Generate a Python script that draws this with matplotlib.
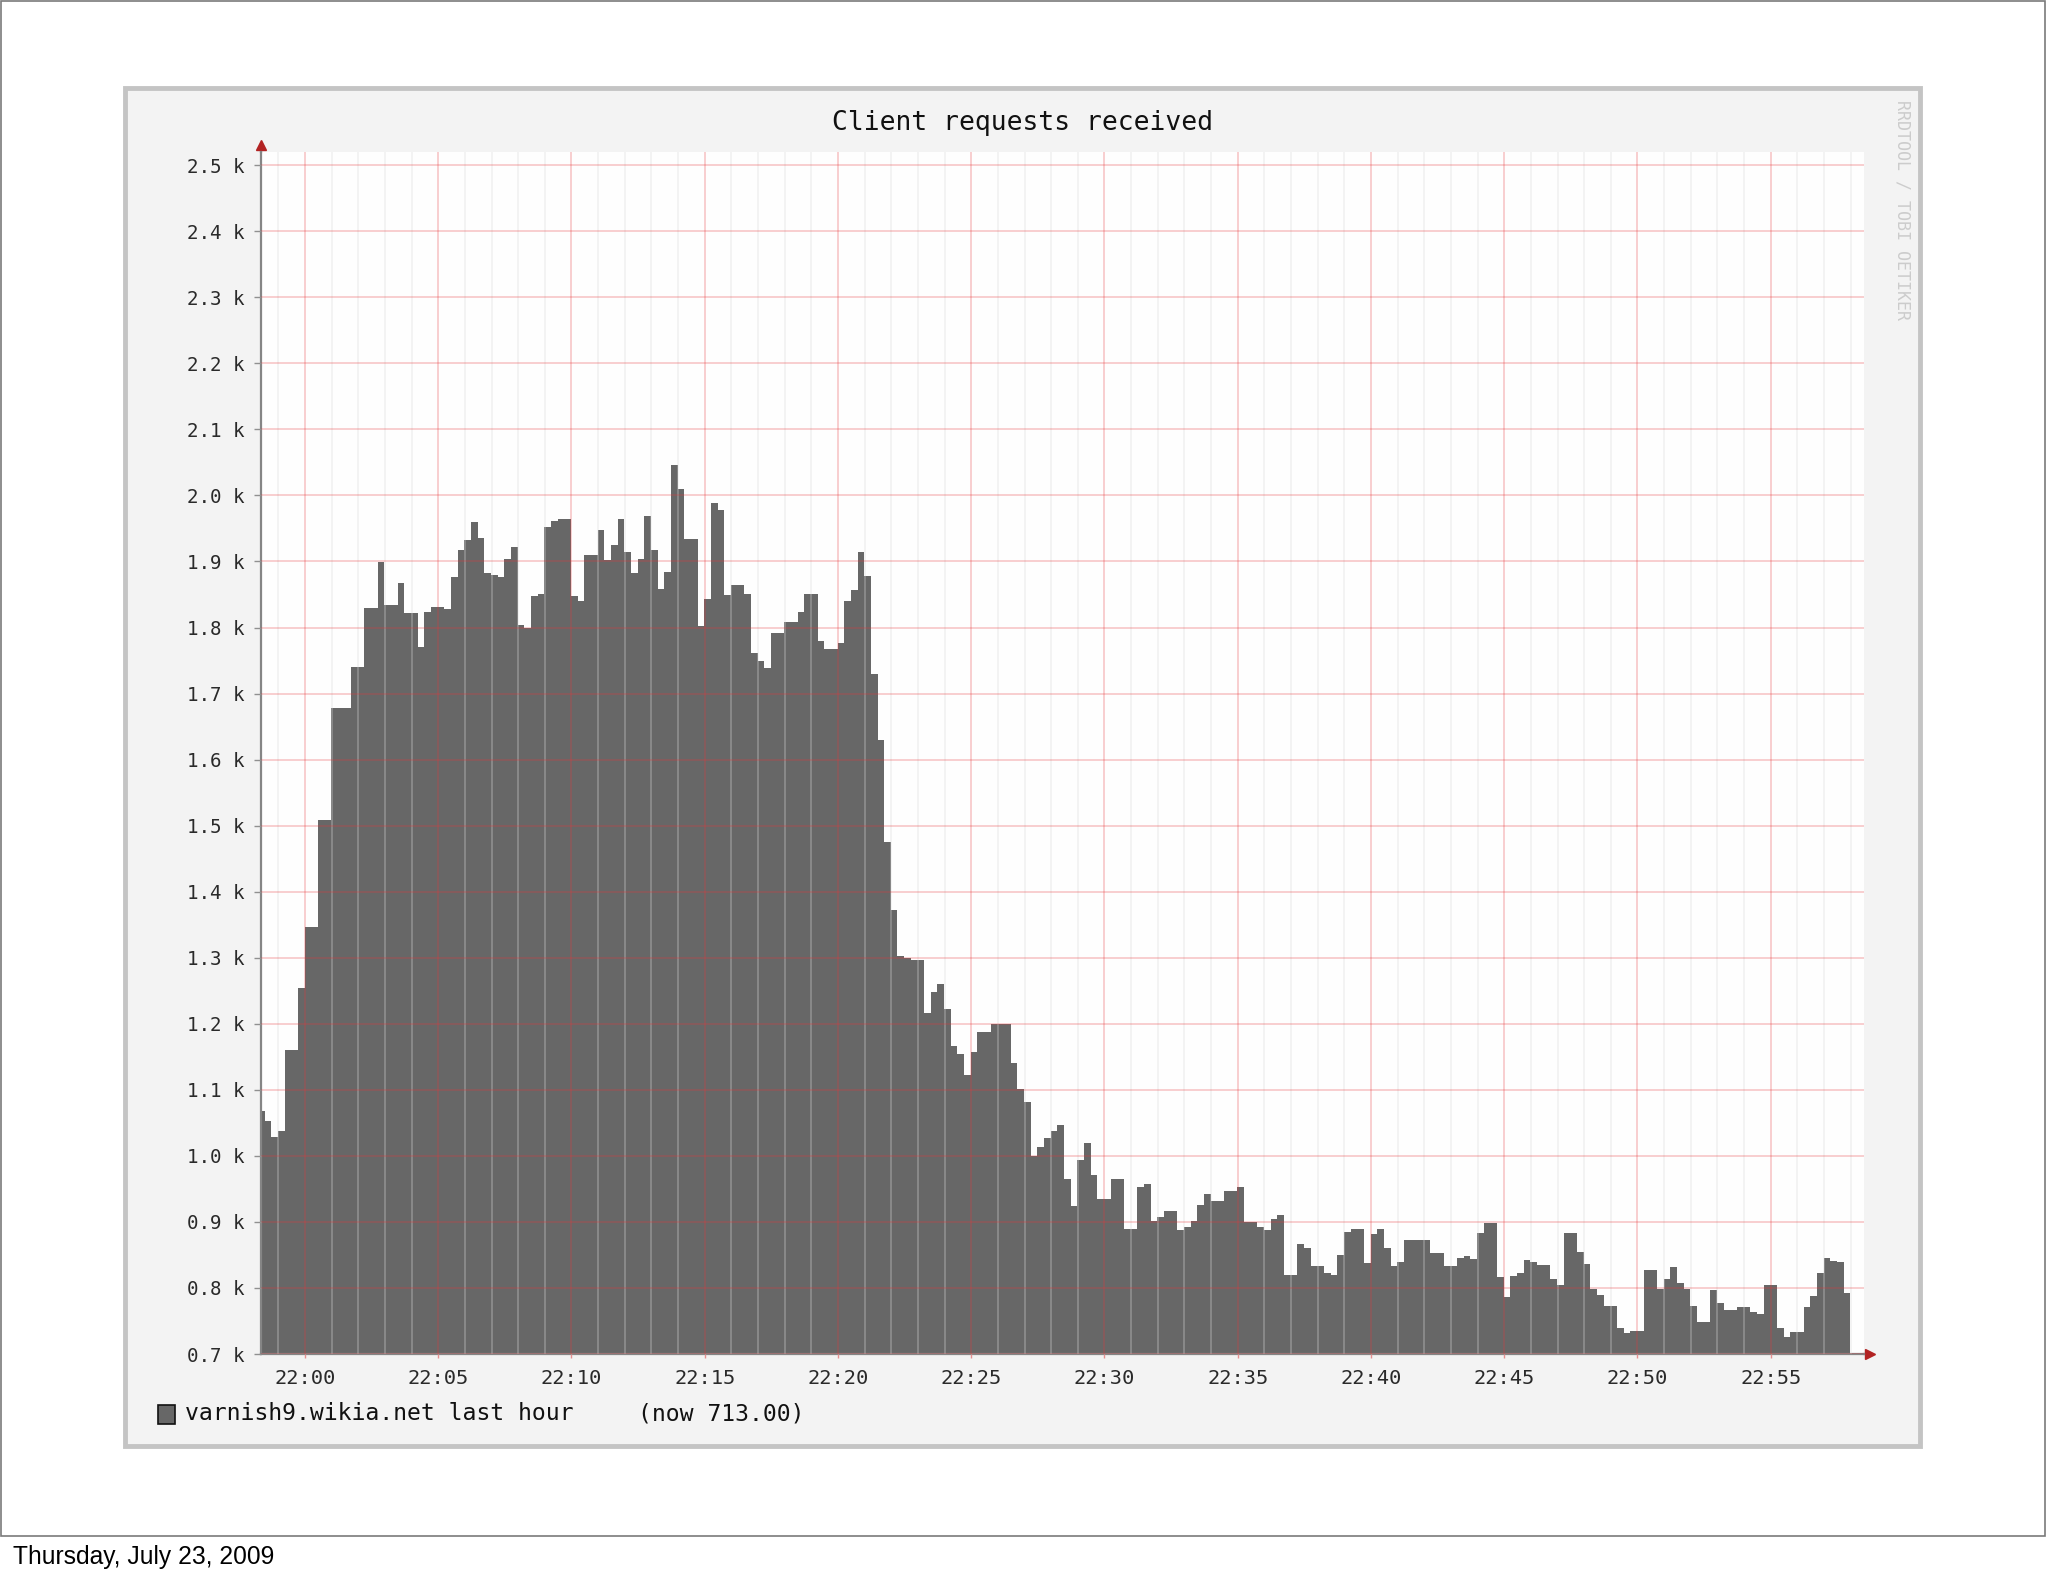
import matplotlib
matplotlib.use("Agg")
import matplotlib.pyplot as plt
import matplotlib.dates as mdates
from matplotlib.patches import Rectangle
from matplotlib.ticker import MultipleLocator, FuncFormatter
from datetime import datetime, timedelta

# client requests per 15 s sample
requests_q1 = [1068, 1053, 1028, 1038, 1160, 1160, 1254, 1347, 1347, 1509,
               1509, 1678, 1678, 1678, 1740, 1740, 1830, 1830, 1899, 1834,
               1834, 1868, 1822, 1822, 1770, 1824, 1831, 1831, 1828, 1876,
               1918, 1932, 1960, 1935, 1883, 1880, 1876, 1903, 1922, 1804,
               1799, 1848, 1851, 1952, 1962, 1965, 1965, 1848, 1840, 1910,
               1910, 1948, 1902, 1925, 1964, 1915, 1882, 1904, 1969, 1917]
requests_q2 = [1859, 1884, 2046, 2009, 1934, 1934, 1802, 1843, 1988, 1978,
               1849, 1864, 1864, 1850, 1761, 1749, 1738, 1791, 1791, 1809,
               1809, 1824, 1851, 1851, 1780, 1767, 1767, 1776, 1840, 1857,
               1914, 1878, 1730, 1630, 1475, 1372, 1303, 1300, 1297, 1297,
               1216, 1248, 1260, 1223, 1166, 1154, 1122, 1157, 1187, 1187,
               1199, 1199, 1199, 1140, 1102, 1081, 1000, 1013, 1027, 1037]
requests_q3 = [1047, 965, 924, 993, 1020, 971, 935, 935, 965, 965,
               890, 890, 953, 957, 902, 907, 917, 917, 887, 893,
               901, 926, 943, 931, 931, 947, 947, 953, 900, 900,
               893, 888, 905, 911, 819, 819, 867, 861, 833, 833,
               823, 820, 850, 885, 889, 889, 838, 881, 889, 861,
               834, 839, 872, 872, 872, 872, 853, 853, 834, 834]
requests_q4 = [846, 848, 844, 883, 898, 898, 816, 787, 818, 823,
               843, 840, 835, 835, 813, 805, 883, 883, 855, 837,
               798, 789, 772, 772, 740, 732, 735, 735, 827, 827,
               798, 814, 831, 808, 798, 772, 749, 749, 797, 777,
               766, 766, 771, 771, 763, 761, 804, 804, 739, 725,
               733, 733, 771, 788, 823, 845, 841, 839, 792]

first_sample = datetime(2009, 7, 23, 21, 58, 14)
step = timedelta(seconds=15)
view_start = datetime(2009, 7, 23, 21, 58, 21)
view_end = datetime(2009, 7, 23, 22, 58, 30)
y_min, y_max = 700, 2520

title = "Client requests received"
legend_label = "varnish9.wikia.net last hour"
now_value = 713.00
watermark = "RRDTOOL / TOBI OETIKER"
slide_date = "Thursday, July 23, 2009"

values = requests_q1 + requests_q2 + requests_q3 + requests_q4
edges = mdates.date2num([first_sample + step * i for i in range(len(values) + 1)])

W, H = 2048, 1576


def fx(px):
    return px / W


def fy(py):
    return 1 - py / H


mono = "DejaVu Sans Mono"
fig = plt.figure(figsize=(20.48, 15.76), dpi=100)
fig.patch.set_facecolor("white")

# slide frame and rrd canvas
fig.add_artist(Rectangle((fx(1), fy(1536)), fx(2045) - fx(1), fy(1) - fy(1536),
                         fill=False, ec="#7a7a7a", lw=1.2, zorder=-2,
                         transform=fig.transFigure))
fig.add_artist(Rectangle((fx(125), fy(1446)), fx(1920) - fx(125), fy(87.5) - fy(1446),
                         fc="#f3f3f3", ec="#c4c4c4", lw=3.5, zorder=-1,
                         transform=fig.transFigure))

ax = fig.add_axes([fx(261), fy(1354), fx(1864) - fx(261), fy(152) - fy(1354)])
ax.set_facecolor("#fefefe")

ax.stairs(values, edges, baseline=0, fill=True, color="#676767", lw=0, zorder=1)

ax.xaxis_date()
ax.set_xlim(mdates.date2num(view_start), mdates.date2num(view_end))
ax.set_ylim(y_min, y_max)

ax.xaxis.set_major_locator(mdates.MinuteLocator(byminute=range(0, 60, 5)))
ax.xaxis.set_minor_locator(mdates.MinuteLocator())
ax.xaxis.set_major_formatter(mdates.DateFormatter("%H:%M"))
ax.yaxis.set_major_locator(MultipleLocator(100))
ax.yaxis.set_major_formatter(FuncFormatter(lambda v, p: f"{v / 1000:.1f} k"))

ax.set_axisbelow(False)
ax.grid(which="major", axis="both", color="#e8383b", alpha=0.24, lw=1.4)
ax.grid(which="minor", axis="x", color="#dadada", alpha=0.3, lw=1.4)

for s in ["top", "right"]:
    ax.spines[s].set_visible(False)
for s in ["left", "bottom"]:
    ax.spines[s].set_color("#858585")
    ax.spines[s].set_linewidth(1.6)

ax.tick_params(axis="y", which="major", length=5, width=1, color="#909090",
               pad=7, labelsize=13.75, labelcolor="#2a2a2a")
for lab in ax.get_yticklabels():
    lab.set_family(mono)
ax.tick_params(axis="x", which="major", length=3, width=1, color="#e89090",
               pad=8, labelsize=14.7, labelcolor="#2a2a2a")
ax.tick_params(axis="x", which="minor", length=0)
for lab in ax.get_xticklabels():
    lab.set_family(mono)

# axis arrows
ax.plot([0, 0], [1, 1.004], color="#858585", lw=1.6, transform=ax.transAxes, clip_on=False)
ax.plot([0], [1.006], marker="^", ms=7, color="#b22222", mec="#b22222",
        transform=ax.transAxes, clip_on=False)
ax.plot([1, 1.003], [0, 0], color="#858585", lw=1.6, transform=ax.transAxes, clip_on=False)
ax.plot([1.004], [0], marker=">", ms=7, color="#b22222", mec="#b22222",
        transform=ax.transAxes, clip_on=False)

fig.text(fx(1022), fy(123), title, ha="center", va="center",
         family=mono, fontsize=19, color="#111111")
fig.text(fx(1902), fy(100), watermark, ha="center", va="top", rotation=270,
         family=mono, fontsize=12, color="#cccccc")

# legend
fig.add_artist(Rectangle((fx(158), fy(1424)), fx(175) - fx(158), fy(1405) - fy(1424),
                         fc="#676767", ec="#111111", lw=1.2, transform=fig.transFigure))
fig.text(fx(185), fy(1414), legend_label, ha="left", va="center",
         family=mono, fontsize=16.7, color="#111111")
fig.text(fx(638), fy(1414), f"(now {now_value:.2f})", ha="left", va="center",
         family=mono, fontsize=16.7, color="#111111")

fig.text(fx(13), fy(1557), slide_date, ha="left", va="center",
         family="Liberation Sans", fontsize=17.7, color="#000000")

fig.savefig("out.png", dpi=100)
